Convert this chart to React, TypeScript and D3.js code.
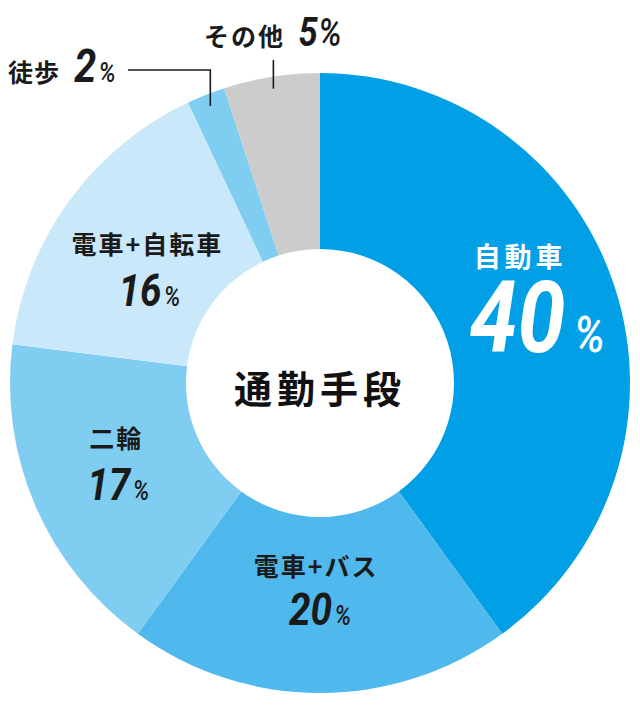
import * as d3 from "d3";

const categories = ["自動車", "電車+バス", "二輪", "電車+自転車", "徒歩", "その他"];
const values = [40, 20, 17, 16, 2, 5];
const colors = ["#009fe6", "#4fb8ec", "#80cdf2", "#c9e8f9", "#80cdf2", "#cccccc"];
const centerTitle = "通勤手段";

const WIDTH = 640;
const HEIGHT = 720;
const CX = 320;
const CY = 383;
const OUTER = 310;
const INNER = 134;

const JP = "'Noto Sans CJK JP', sans-serif";
const NUM = "Roboto, sans-serif";

// label layout relative to the arc centroid
const inside: Record<string, { dx: number; ly: number; nx: number; ny: number; big?: boolean; white?: boolean }> = {
  自動車: { dx: -11, ly: -59, nx: 6, ny: 38, big: true, white: true },
  "電車+バス": { dx: -4, ly: -40, nx: 0, ny: 20 },
  二輪: { dx: 0, ly: -34, nx: 2, ny: 29 },
  "電車+自転車": { dx: 7, ly: -10, nx: 9, ny: 53 },
};

const Pct = ({ x, y, v, size, pctSize, color, gap = 0.06 }: { x: number; y: number; v: number; size: number; pctSize: number; color: string; gap?: number }) => (
  <g transform={`translate(${x},${y}) scale(0.86,1)`}>
    <text textAnchor="middle" fill={color} fontFamily={NUM} fontStyle="italic">
      <tspan fontSize={size} fontWeight={700}>{v}</tspan>
      <tspan fontSize={pctSize} fontWeight={500} dx={size * gap}>%</tspan>
    </text>
  </g>
);

export default function App() {
  const pie = d3.pie<number>().sort(null).value((d) => d);
  const arcs = pie(values);
  const arc = d3.arc<d3.PieArcDatum<number>>().innerRadius(INNER).outerRadius(OUTER);
  const mid = d3.arc<d3.PieArcDatum<number>>().innerRadius((INNER + OUTER) / 2).outerRadius((INNER + OUTER) / 2);
  const pt = (a: d3.PieArcDatum<number>, r: number) => {
    const t = (a.startAngle + a.endAngle) / 2;
    return [r * Math.sin(t), -r * Math.cos(t)];
  };

  return (
    <svg width={WIDTH} height={HEIGHT} style={{ position: "absolute", left: 0, top: 0 }}>
      <g transform={`translate(${CX},${CY})`}>
        {arcs.map((a, i) => (
          <path key={i} d={arc(a) || ""} fill={colors[i]} />
        ))}
        {arcs.map((a, i) => {
          const name = categories[i];
          const cfg = inside[name];
          if (!cfg) return null;
          const [mx, my] = mid.centroid(a);
          const col = cfg.white ? "#ffffff" : "#1a1a1a";
          return (
            <g key={name}>
              <text
                x={mx + cfg.dx}
                y={my + cfg.ly}
                textAnchor="middle"
                dominantBaseline="central"
                fontFamily={JP}
                fontWeight={700}
                fontSize={cfg.big ? 27 : 25}
                letterSpacing={cfg.big ? 4 : 2}
                fill={col}
              >
                {name}
              </text>
              {cfg.big ? (
                <Pct x={mx + cfg.nx} y={my + cfg.ny} v={values[i]} size={100} pctSize={50} color={col} gap={0.1} />
              ) : (
                <Pct x={mx + cfg.nx} y={my + cfg.ny} v={values[i]} size={45} pctSize={27} color={col} />
              )}
            </g>
          );
        })}
        {/* leader lines for small slices */}
        {(() => {
          const [wx, wy] = pt(arcs[4], 298);
          const [ox, oy] = pt(arcs[5], 298);
          return (
            <g stroke="#1a1a1a" strokeWidth={1.6} fill="none">
              <polyline points={`${wx},${wy} ${wx},${70 - CY} ${128 - CX},${70 - CY}`} />
              <line x1={ox} y1={oy} x2={ox} y2={60 - CY} />
            </g>
          );
        })()}
        <text
          x={0}
          y={3}
          textAnchor="middle"
          dominantBaseline="central"
          fontFamily={JP}
          fontWeight={700}
          fontSize={38}
          letterSpacing={5}
          fill="#111"
        >
          {centerTitle}
        </text>
      </g>
      {/* outside labels */}
      <text x={8} y={82} fontFamily={JP} fontWeight={700} fontSize={25} letterSpacing={1} fill="#1a1a1a">
        {categories[4]}
      </text>
      <Pct x={95} y={82} v={values[4]} size={46} pctSize={28} color="#1a1a1a" />
      <text x={204} y={46} fontFamily={JP} fontWeight={700} fontSize={25} letterSpacing={2} fill="#1a1a1a">
        {categories[5]}
      </text>
      <Pct x={320} y={46} v={values[5]} size={40} pctSize={38} color="#1a1a1a" gap={0.02} />
    </svg>
  );
}
